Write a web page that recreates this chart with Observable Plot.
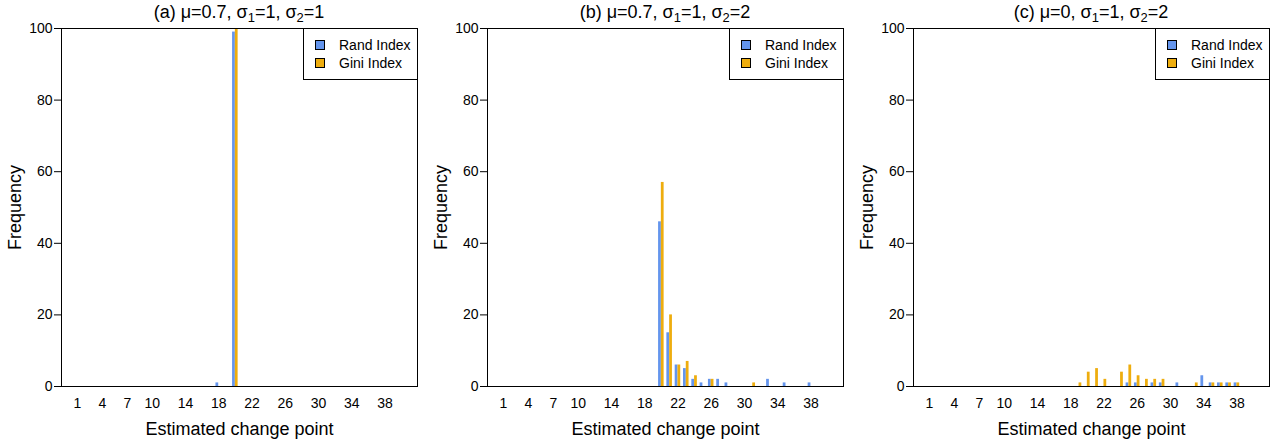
<!DOCTYPE html>
<html><head><meta charset="utf-8">
<script src="https://cdn.jsdelivr.net/npm/d3@7"></script>
<script src="https://cdn.jsdelivr.net/npm/@observablehq/plot@0.6"></script>
<style>
body{margin:0;background:#fff;font-family:"Liberation Sans",Arial,sans-serif;color:#000;}
#row{display:flex;width:1283px;}
.panel{position:relative;width:426px;flex:none;}
.title{margin-left:31px;width:416px;height:20px;line-height:24px;font-size:18px;text-align:center;white-space:nowrap;}
.title sub{font-size:0.72em;vertical-align:-0.28em;line-height:0;}
.legend{position:absolute;left:303px;top:28px;width:115px;height:52px;box-sizing:border-box;border:1px solid #000;background:#fff;font-size:14px;}
.legend .item{position:absolute;left:11px;height:16px;line-height:16px;white-space:nowrap;}
.legend .sw{position:absolute;left:0;top:3px;width:10px;height:10px;box-sizing:border-box;border:1px solid #000;}
.legend .lab{position:absolute;left:24px;top:0;}
svg{overflow:visible;}
</style>
</head><body>
<div id="row"></div>
<script>
// ---- data ----
const cats = d3.range(1, 41);                       // estimated change point 1..40
const tickLabels = [1, 4, 7, 10, 14, 18, 22, 26, 30, 34, 38];
const yTicks = [0, 20, 40, 60, 80, 100];
const seriesNames = ["Rand Index", "Gini Index"];
const seriesColors = ["#6495ED", "#EEAD0E"];
const titles = [
  "(a) μ=0.7, σ<sub>1</sub>=1, σ<sub>2</sub>=1",
  "(b) μ=0.7, σ<sub>1</sub>=1, σ<sub>2</sub>=2",
  "(c) μ=0, σ<sub>1</sub>=1, σ<sub>2</sub>=2"
];
const xLabel = "Estimated change point";
const yLabel = "Frequency";

//            1 2 3 4 5 6 7 8 9 10 11 12 13 14 15 16 17 18 19 20  21 22 23 24 25 26 27 28 29 30 31 32 33 34 35 36 37 38 39 40
const randA = [0,0,0,0,0,0,0,0,0,0, 0, 0, 0, 0, 0, 0, 0, 1, 0, 99, 0, 0, 0, 0, 0, 0, 0, 0, 0, 0, 0, 0, 0, 0, 0, 0, 0, 0, 0, 0];
const giniA = [0,0,0,0,0,0,0,0,0,0, 0, 0, 0, 0, 0, 0, 0, 0, 0,100, 0, 0, 0, 0, 0, 0, 0, 0, 0, 0, 0, 0, 0, 0, 0, 0, 0, 0, 0, 0];
const randB = [0,0,0,0,0,0,0,0,0,0, 0, 0, 0, 0, 0, 0, 0, 0, 0, 46,15, 6, 5, 2, 1, 2, 2, 1, 0, 0, 0, 0, 2, 0, 1, 0, 0, 1, 0, 0];
const giniB = [0,0,0,0,0,0,0,0,0,0, 0, 0, 0, 0, 0, 0, 0, 0, 0, 57,20, 6, 7, 3, 0, 2, 0, 0, 0, 0, 1, 0, 0, 0, 0, 0, 0, 0, 0, 0];
const randC = [0,0,0,0,0,0,0,0,0,0, 0, 0, 0, 0, 0, 0, 0, 0, 0, 0, 0, 0, 0, 0, 1, 1, 0, 1, 1, 0, 1, 0, 0, 3, 1, 1, 1, 1, 0, 0];
const giniC = [0,0,0,0,0,0,0,0,0,0, 0, 0, 0, 0, 0, 0, 0, 0, 1, 4, 5, 2, 0, 4, 6, 3, 2, 2, 2, 0, 0, 0, 1, 0, 1, 1, 1, 1, 0, 0];

const panels = [[randA, giniA], [randB, giniB], [randC, giniC]];
const tickSet = new Set(tickLabels);

function makePlot(rand, gini) {
  const rows = cats.map((c, i) => ({cat: c, rand: rand[i], gini: gini[i]}));
  const W = 426, ML = 61, MR = 9, n = cats.length, pI = 1/3, pO = 1.587;
  const step = (W - ML - MR) / (n - pI + 2 * pO);
  const half = step * (1 - pI) / 2;
  return Plot.plot({
    width: W, height: 425,
    marginLeft: ML, marginRight: MR, marginTop: 8, marginBottom: 59,
    style: {fontFamily: '"Liberation Sans", Arial, sans-serif', fontSize: "14px", color: "black", background: "white", overflow: "visible"},
    x: {type: "band", domain: cats, paddingInner: pI, paddingOuter: pO, align: 0.5, round: false,
        tickSize: 0, tickPadding: 12, tickFormat: d => tickSet.has(d) ? String(d) : "", label: null},
    y: {domain: [0, 100], ticks: yTicks, tickSize: 7, tickPadding: 2, label: null},
    marks: [
      Plot.barY(rows, {x: "cat", y: "rand", fill: seriesColors[0], insetLeft: 0, insetRight: half}),
      Plot.barY(rows, {x: "cat", y: "gini", fill: seriesColors[1], insetLeft: half, insetRight: 0}),
      Plot.frame({stroke: "black", strokeWidth: 1}),
      Plot.text([xLabel], {frameAnchor: "bottom", dy: 43, fontSize: 18, text: d => d, lineAnchor: "middle"}),
      Plot.text([yLabel], {frameAnchor: "left", dx: -46, rotate: -90, fontSize: 18, text: d => d, textAnchor: "middle", lineAnchor: "middle"})
    ]
  });
}

const row = document.getElementById("row");
panels.forEach(([rand, gini], k) => {
  const div = document.createElement("div");
  div.className = "panel";
  const t = document.createElement("div");
  t.className = "title";
  t.innerHTML = titles[k];
  div.appendChild(t);
  div.appendChild(makePlot(rand, gini));
  const lg = document.createElement("div");
  lg.className = "legend";
  seriesNames.forEach((name, j) => {
    const it = document.createElement("div");
    it.className = "item";
    it.style.top = (8 + j * 17.5) + "px";
    it.innerHTML = `<span class="sw" style="background:${seriesColors[j]}"></span><span class="lab">${name}</span>`;
    lg.appendChild(it);
  });
  div.appendChild(lg);
  row.appendChild(div);
});
</script>
</body></html>
